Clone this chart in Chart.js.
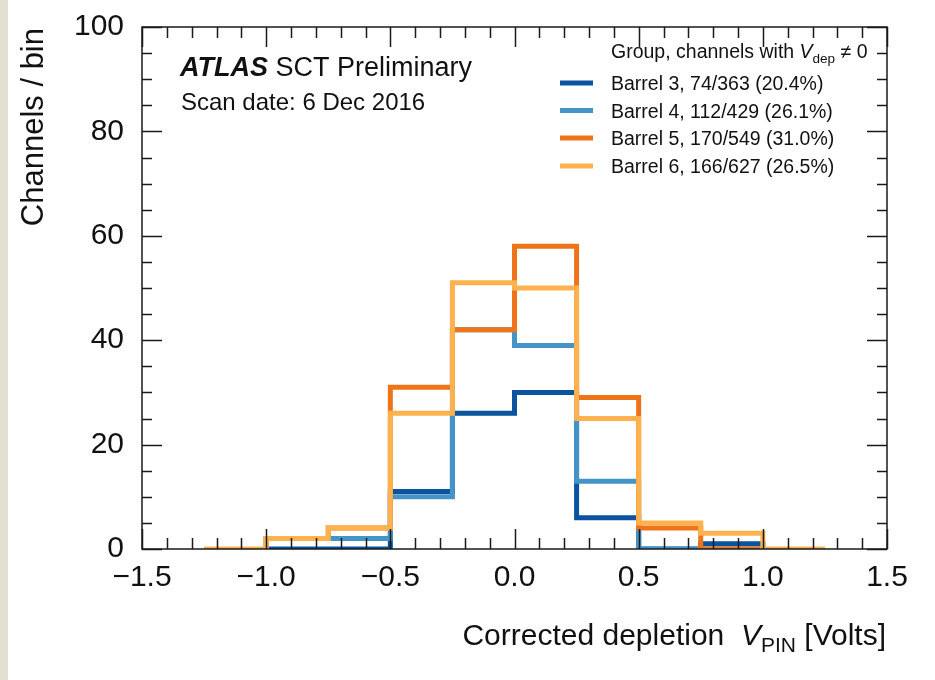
<!DOCTYPE html>
<html>
<head>
<meta charset="utf-8">
<script src="https://cdn.jsdelivr.net/npm/chart.js@4.4.1/dist/chart.umd.min.js"></script>
<style>
  html, body { margin: 0; padding: 0; background: #fff; overflow: hidden; }
  canvas { display: block; }
</style>
</head>
<body>
<canvas id="vpinChart" width="935" height="680"></canvas>
<script>
// bin edges of the V_PIN histogram (Volts)
const binEdges = [-1.25, -1.0, -0.75, -0.5, -0.25, 0.0, 0.25, 0.5, 0.75, 1.0, 1.25];

// channels per bin, null where a group has no drawn bin
const barrel3 = [null, 0, 0, 11, 26, 30, 6, 0, 1, null];
const barrel4 = [null, 2, 2, 10, 42, 39, 13, 0, 0, null];
const barrel5 = [null, 2, 4, 31, 42, 58, 29, 4, 0, null];
const barrel6 = [0, 2, 4, 26, 51, 50, 25, 5, 3, 0];

const groupLabels = [
    'Barrel 3, 74/363 (20.4%)',
    'Barrel 4, 112/429 (26.1%)',
    'Barrel 5, 170/549 (31.0%)',
    'Barrel 6, 166/627 (26.5%)'
];
const groupColors = ['#0b539f', '#4594c8', '#ef7419', '#feb14f'];

const xTicks = [-1.5, -1.0, -0.5, 0.0, 0.5, 1.0, 1.5];
const yTicks = [0, 20, 40, 60, 80, 100];

const FONT = '"Liberation Sans", Arial, Helvetica, sans-serif';
const INK = '#111';

// turn bin contents into step outline points
function histPoints(values) {
    const first = values.findIndex(v => v !== null);
    let last = values.length - 1;
    while (values[last] === null) last--;
    const pts = [{ x: binEdges[first], y: 0 }];
    for (let i = first; i <= last; i++) pts.push({ x: binEdges[i], y: values[i] });
    pts.push({ x: binEdges[last + 1], y: 0 });
    return pts;
}

// draw a row of text pieces with mixed fonts, left aligned at x
function drawRuns(ctx, runs, x, y) {
    let cx = x;
    runs.forEach(r => {
        ctx.font = r.font;
        ctx.fillText(r.text, cx, y + (r.dy || 0));
        cx += ctx.measureText(r.text).width;
    });
    return cx;
}

function runsWidth(ctx, runs) {
    return runs.reduce((w, r) => { ctx.font = r.font; return w + ctx.measureText(r.text).width; }, 0);
}

const atlasDecor = {
    id: 'atlasDecor',
    beforeDraw(chart) {
        const ctx = chart.ctx;
        ctx.save();
        ctx.fillStyle = '#fff';
        ctx.fillRect(0, 0, chart.width, chart.height);
        ctx.fillStyle = '#e3dfd3';
        ctx.fillRect(0, 0, 8, chart.height);
        ctx.restore();
    },
    afterDatasetsDraw(chart) {
        const ctx = chart.ctx;
        const { left, right, top, bottom } = chart.chartArea;
        const xs = chart.scales.x, ys = chart.scales.y;
        ctx.save();
        ctx.strokeStyle = '#1a1a1a';
        ctx.lineWidth = 1.5;
        ctx.beginPath();
        // x ticks every 0.1, major every 0.5, on bottom and top
        for (let i = -15; i <= 15; i++) {
            const px = Math.round(xs.getPixelForValue(i / 10)) + 0.5;
            const len = i % 5 === 0 ? 20 : 11;
            ctx.moveTo(px, bottom); ctx.lineTo(px, bottom - len);
            ctx.moveTo(px, top); ctx.lineTo(px, top + len);
        }
        // y ticks every 5, major every 20, on left and right
        for (let i = 0; i <= 20; i++) {
            const py = Math.round(ys.getPixelForValue(i * 5)) + 0.5;
            const len = i % 4 === 0 ? 20 : 10;
            ctx.moveTo(left, py); ctx.lineTo(left + len, py);
            ctx.moveTo(right, py); ctx.lineTo(right - len, py);
        }
        ctx.stroke();
        ctx.strokeRect(left, top, right - left, bottom - top);
        ctx.restore();
    },
    afterDraw(chart) {
        const ctx = chart.ctx;
        ctx.save();
        ctx.fillStyle = INK;
        ctx.textBaseline = 'alphabetic';

        // y axis title
        ctx.save();
        ctx.translate(43, 28);
        ctx.rotate(-Math.PI / 2);
        ctx.textAlign = 'right';
        ctx.font = '31px ' + FONT;
        ctx.fillText('Channels / bin', 0, 0);
        ctx.restore();

        // x axis title, right aligned to the frame
        const xTitle = [
            { text: 'Corrected depletion  ', font: '30px ' + FONT },
            { text: 'V', font: 'italic 30px ' + FONT },
            { text: 'PIN', font: '21px ' + FONT, dy: 7 },
            { text: ' [Volts]', font: '30px ' + FONT }
        ];
        ctx.textAlign = 'left';
        drawRuns(ctx, xTitle, 886 - runsWidth(ctx, xTitle), 645);

        // experiment label
        drawRuns(ctx, [
            { text: 'ATLAS', font: 'italic bold 27px ' + FONT },
            { text: ' SCT Preliminary', font: '27px ' + FONT }
        ], 180, 76);
        ctx.font = '24px ' + FONT;
        ctx.fillText('Scan date: 6 Dec 2016', 181, 110);

        // legend
        drawRuns(ctx, [
            { text: 'Group, channels with ', font: '19.5px ' + FONT },
            { text: 'V', font: 'italic 19.5px ' + FONT },
            { text: 'dep', font: '13.5px ' + FONT, dy: 5 },
            { text: ' \u2260 0', font: '19.5px ' + FONT }
        ], 611, 58);
        const rowY = [83, 110.5, 138, 166];
        groupLabels.forEach((lab, i) => {
            ctx.strokeStyle = groupColors[i];
            ctx.lineWidth = 5;
            ctx.beginPath();
            ctx.moveTo(560, rowY[i]);
            ctx.lineTo(593, rowY[i]);
            ctx.stroke();
            ctx.font = '19.5px ' + FONT;
            ctx.fillText(lab, 611, rowY[i] + 7);
        });
        ctx.restore();
    }
};

const groups = [barrel3, barrel4, barrel5, barrel6];

new Chart(document.getElementById('vpinChart'), {
    type: 'line',
    data: {
        datasets: groups.map((vals, i) => ({
            label: groupLabels[i],
            data: histPoints(vals),
            borderColor: groupColors[i],
            borderWidth: 5,
            stepped: 'before',
            tension: 0,
            fill: false,
            pointRadius: 0,
            borderJoinStyle: 'miter',
            borderCapStyle: 'butt',
            clip: 0,
            order: groups.length - i   // later groups on top
        }))
    },
    options: {
        responsive: false,
        animation: false,
        devicePixelRatio: 1,
        layout: { padding: { top: 27, right: 48, bottom: 0, left: 0 } },
        plugins: {
            legend: { display: false },
            tooltip: { enabled: false }
        },
        scales: {
            x: {
                type: 'linear',
                min: -1.5,
                max: 1.5,
                afterBuildTicks: s => { s.ticks = xTicks.map(v => ({ value: v })); },
                afterFit: s => { s.height = 131; s.paddingLeft = 0; s.paddingRight = 0; },
                grid: { display: false, drawTicks: false },
                border: { display: false },
                ticks: {
                    color: INK,
                    padding: 11,
                    maxRotation: 0,
                    font: { family: FONT, size: 30 },
                    callback: v => (v < 0 ? '\u2212' : '') + Math.abs(v).toFixed(1)
                }
            },
            y: {
                min: 0,
                max: 100,
                afterBuildTicks: s => { s.ticks = yTicks.map(v => ({ value: v })); },
                afterFit: s => { s.width = 142; s.paddingTop = 0; s.paddingBottom = 0; },
                grid: { display: false, drawTicks: false },
                border: { display: false },
                ticks: {
                    color: INK,
                    padding: 18,
                    font: { family: FONT, size: 30 },
                    callback: v => String(v)
                }
            }
        }
    },
    plugins: [atlasDecor]
});
</script>
</body>
</html>
